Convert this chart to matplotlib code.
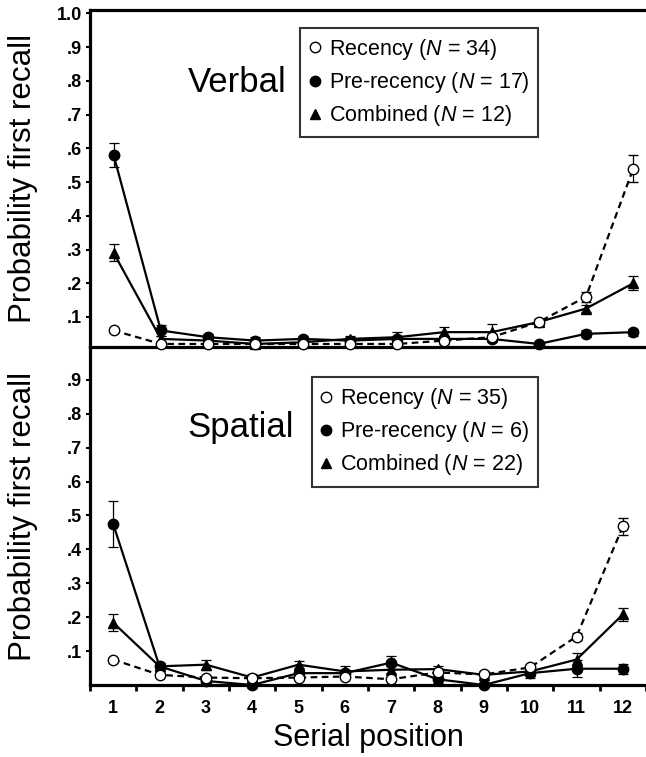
import matplotlib
matplotlib.use("Agg")
import matplotlib.pyplot as plt
import numpy as np
from matplotlib.lines import Line2D

plt.rcParams["font.family"] = ["Liberation Sans", "DejaVu Sans"]
plt.rcParams["mathtext.fontset"] = "custom"
plt.rcParams["mathtext.rm"] = "Liberation Sans"
plt.rcParams["mathtext.it"] = "Liberation Sans:italic"

positions = np.arange(1, 13)

# verbal panel
verbal_recency = [0.06, 0.02, 0.02, 0.02, 0.02, 0.02, 0.02, 0.03, 0.04, 0.085, 0.16, 0.54]
verbal_recency_err = [0.005, 0.005, 0.005, 0.005, 0.005, 0.005, 0.005, 0.01, 0.01, 0.01, 0.015, 0.04]
verbal_pre = [0.58, 0.06, 0.04, 0.03, 0.035, 0.03, 0.035, 0.035, 0.035, 0.02, 0.05, 0.055]
verbal_pre_err = [0.035, 0.015, 0.01, 0.01, 0.01, 0.01, 0.01, 0.01, 0.01, 0.005, 0.01, 0.01]
verbal_comb = [0.29, 0.035, 0.03, 0.02, 0.025, 0.035, 0.04, 0.055, 0.055, 0.085, 0.125, 0.20]
verbal_comb_err = [0.025, 0.01, 0.01, 0.01, 0.01, 0.01, 0.015, 0.015, 0.025, 0.01, 0.01, 0.02]
verbal_n = [34, 17, 12]

# spatial panel
spatial_recency = [0.075, 0.03, 0.022, 0.02, 0.022, 0.025, 0.017, 0.037, 0.031, 0.052, 0.143, 0.468]
spatial_recency_err = [0.005, 0.005, 0.005, 0.005, 0.005, 0.005, 0.005, 0.005, 0.005, 0.005, 0.01, 0.025]
spatial_pre = [0.475, 0.055, 0.012, 0.0, 0.035, 0.035, 0.066, 0.017, 0.0, 0.035, 0.048, 0.048]
spatial_pre_err = [0.067, 0.01, 0.01, 0.01, 0.01, 0.01, 0.02, 0.01, 0.005, 0.015, 0.025, 0.015]
spatial_comb = [0.184, 0.055, 0.06, 0.022, 0.06, 0.04, 0.045, 0.047, 0.03, 0.04, 0.075, 0.208]
spatial_comb_err = [0.025, 0.01, 0.015, 0.01, 0.01, 0.015, 0.01, 0.01, 0.01, 0.01, 0.02, 0.02]
spatial_n = [35, 6, 22]

ytick_vals = [0.1, 0.2, 0.3, 0.4, 0.5, 0.6, 0.7, 0.8, 0.9, 1.0]
ytick_labels = [".1", ".2", ".3", ".4", ".5", ".6", ".7", ".8", ".9", "1.0"]

fig = plt.figure(figsize=(6.46, 7.57), dpi=100)
ax_top = fig.add_axes([90 / 646, 1 - 347 / 757, 556 / 646, 337 / 757])
ax_bot = fig.add_axes([90 / 646, 1 - 685 / 757, 556 / 646, 338 / 757])
ax_bot.patch.set_visible(False)

spine_lw = 2.3


def draw_panel(ax, rec, rec_err, pre, pre_err, comb, comb_err, title, n, title_y, leg_xy):
    common = dict(color="black", lw=1.6, elinewidth=0.9, capsize=3.5, capthick=0.9,
                  markersize=7.5, clip_on=False)
    ax.errorbar(positions, pre, yerr=pre_err, fmt="-o", mfc="black", mec="black", zorder=3, **common)
    ax.errorbar(positions, comb, yerr=comb_err, fmt="-^", mfc="black", mec="black", zorder=4, **common)
    ax.errorbar(positions, rec, yerr=rec_err, fmt="--o", mfc="white", mec="black", mew=1.0,
                dashes=(3, 2), zorder=5, **common)

    ax.set_xlim(0.5, 12.27)
    ax.spines["right"].set_visible(False)
    for s in ax.spines.values():
        s.set_linewidth(spine_lw)
    ax.tick_params(axis="y", direction="out", length=3, width=1.5, pad=3)
    ax.set_ylabel("Probability first recall", fontsize=22.5)
    ax.yaxis.set_label_coords(-0.094, 0.5)

    ax.text(0.176, title_y, title, transform=ax.transAxes, fontsize=25,
            ha="left", va="baseline")

    handles = [
        Line2D([], [], ls="none", marker="o", mfc="white", mec="black", ms=7.5, mew=1.0),
        Line2D([], [], ls="none", marker="o", mfc="black", mec="black", ms=7.5),
        Line2D([], [], ls="none", marker="^", mfc="black", mec="black", ms=7.5),
    ]
    labels = [
        f"Recency ($\\mathit{{N}}$ = {n[0]})",
        f"Pre-recency ($\\mathit{{N}}$ = {n[1]})",
        f"Combined ($\\mathit{{N}}$ = {n[2]})",
    ]
    leg = ax.legend(handles, labels, loc="upper left", bbox_to_anchor=leg_xy,
                    borderaxespad=0, fontsize=15.5, frameon=True, fancybox=False,
                    handlelength=0.5, handletextpad=0.4, labelspacing=0.38,
                    borderpad=0.42)
    leg.get_frame().set_edgecolor("black")
    leg.get_frame().set_linewidth(1.5)


draw_panel(ax_top, verbal_recency, verbal_recency_err, verbal_pre, verbal_pre_err,
           verbal_comb, verbal_comb_err, "Verbal", verbal_n, 0.757, (0.378, 0.947))
draw_panel(ax_bot, spatial_recency, spatial_recency_err, spatial_pre, spatial_pre_err,
           spatial_comb, spatial_comb_err, "Spatial", spatial_n, 0.734, (0.399, 0.911))

# top panel
ax_top.set_ylim(0.011, 1.01)
ax_top.set_yticks(ytick_vals)
ax_top.set_yticklabels(ytick_labels, fontsize=13, fontweight="bold")
ax_top.set_xticks([])

# bottom panel
ax_bot.set_ylim(0, 0.997)
ax_bot.spines["top"].set_visible(False)
ax_bot.set_yticks(ytick_vals[:-1])
ax_bot.set_yticklabels(ytick_labels[:-1], fontsize=13, fontweight="bold")
ax_bot.set_xticks(positions)
ax_bot.set_xticklabels([str(p) for p in positions], fontsize=13, fontweight="bold")
ax_bot.tick_params(axis="x", which="major", length=0, pad=11)
ax_bot.set_xticks(np.arange(0.5, 12.6, 1.0), minor=True)
ax_bot.tick_params(axis="x", which="minor", direction="out", length=4, width=2)
ax_bot.set_xlabel("Serial position", fontsize=22, labelpad=4)

fig.savefig("out.png", dpi=100)
